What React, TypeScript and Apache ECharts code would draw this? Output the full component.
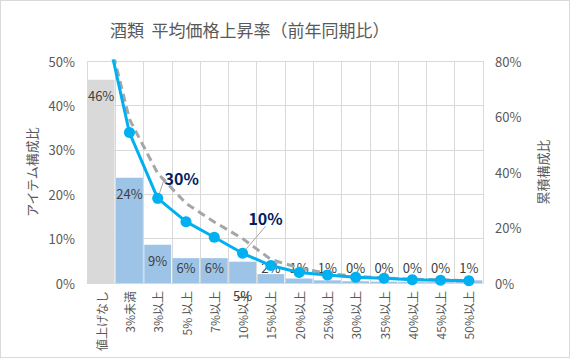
import React, { useEffect, useRef } from "react";
import * as echarts from "echarts";

const categories = [
  "値上げなし", "3%未満", "3%以上", "5% 以上", "7%以上", "10%以上", "15%以上",
  "20%以上", "25%以上", "30%以上", "35%以上", "40%以上", "45%以上", "50%以上",
];
// アイテム構成比 (%)
const itemShare = [45.8, 23.7, 8.6, 5.6, 5.6, 4.8, 2.0, 1.0, 0.6, 0.4, 0.3, 0.2, 0.2, 0.6];
// 累積構成比 (%)
const cumulative = [100, 54.2, 30.5, 22.1, 16.5, 10.7, 6.3, 3.8, 2.9, 2.1, 1.7, 1.2, 1.0, 0.8];
// 近似曲線 (dashed)
const trend = [100, 59, 39.5, 28.7, 22, 16, 8.5, 5.4, 3.4, 2.4, 1.8, 1.4, 1.1, 0.9];
const calloutIdx = [2, 5];
const belowLabelIdx = [5];
const leftTicks = { min: 0, max: 50, interval: 10 };
const rightTicks = { min: 0, max: 80, interval: 20 };

const FONT = "'Noto Sans CJK JP', 'Noto Sans', sans-serif";
const GRID = "#d9d9d9";
const TXT = "#595959";

export default function App() {
  const ref = useRef<HTMLDivElement>(null);
  useEffect(() => {
    if (!ref.current) return;
    const chart = echarts.init(ref.current, undefined, { renderer: "svg" });
    const barData = itemShare.map((v, i) => {
      const item: any = {
        value: v,
        itemStyle: { color: i === 0 ? "#d9d9d9" : "#9dc3e6" },
      };
      if (belowLabelIdx.includes(i)) {
        item.label = { position: "bottom", distance: 6 };
      } else if (v < 7.4) {
        item.label = { position: "insideBottom", distance: 9 };
      }
      return item;
    });
    const lineData = cumulative.map((v, i) =>
      calloutIdx.includes(i) ? { value: v, label: { show: true } } : v
    );
    const offsets: Record<number, { dx: number; dy: number }> = {
      2: { dx: 24, dy: -20 },
      5: { dx: 23, dy: -35 },
    };
    chart.setOption({
      animation: false,
      textStyle: { fontFamily: FONT },
      title: {
        text: "酒類  平均価格上昇率（前年同期比）",
        left: 109,
        top: 20,
        padding: 0,
        textStyle: { fontSize: 17, fontWeight: "normal", color: TXT, fontFamily: FONT },
      },
      graphic: [
        {
          type: "text",
          x: 541,
          y: 171,
          rotation: Math.PI / 2,
          style: {
            text: "累積構成比",
            fill: TXT,
            font: `13px ${FONT}`,
            align: "center",
            verticalAlign: "middle",
          },
        },
      ],
      grid: { left: 86, right: 86, top: 60, bottom: 74 },
      xAxis: {
        type: "category",
        data: categories,
        boundaryGap: true,
        axisLine: { show: true, lineStyle: { color: GRID } },
        axisTick: { show: false },
        splitLine: { show: true, lineStyle: { color: GRID } },
        axisLabel: { rotate: 90, interval: 0, margin: 8, fontSize: 12, color: TXT, fontFamily: FONT },
      },
      yAxis: [
        {
          type: "value",
          ...leftTicks,
          name: "アイテム構成比",
          nameLocation: "middle",
          nameGap: 47,
          nameRotate: 90,
          nameTextStyle: { fontSize: 13, color: TXT, fontFamily: FONT },
          axisLine: { show: false },
          axisTick: { show: false },
          splitLine: { show: true, lineStyle: { color: GRID } },
          axisLabel: { formatter: "{value}%", fontSize: 13, color: TXT, margin: 12, fontFamily: FONT },
        },
        {
          type: "value",
          ...rightTicks,
          axisLine: { show: false },
          axisTick: { show: false },
          splitLine: { show: false },
          axisLabel: { formatter: "{value}%", fontSize: 13, color: TXT, margin: 12, fontFamily: FONT },
        },
      ],
      series: [
        {
          type: "bar",
          data: barData,
          barCategoryGap: "5%",
          yAxisIndex: 0,
          z: 1,
          label: {
            show: true,
            position: "insideTop",
            distance: 9,
            fontSize: 13,
            color: "#404040",
            fontFamily: FONT,
            formatter: (p: any) => Math.round(p.value) + "%",
          },
        },
        {
          type: "line",
          data: trend,
          yAxisIndex: 1,
          symbol: "none",
          z: 2,
          lineStyle: { color: "#a6a6a6", width: 3, type: [8, 5] },
          itemStyle: { color: "#a6a6a6" },
        },
        {
          type: "line",
          data: lineData,
          yAxisIndex: 1,
          symbol: "circle",
          symbolSize: 11,
          z: 3,
          lineStyle: { color: "#00b0f0", width: 3 },
          itemStyle: { color: "#00b0f0" },
          label: {
            show: false,
            position: "inside",
            fontSize: 16,
            fontWeight: "bold",
            color: "#002060",
            fontFamily: FONT,
            formatter: (p: any) => Math.floor(p.value) + "%",
          },
          labelLine: { show: true, lineStyle: { color: "#a6a6a6", width: 1 } },
          labelLayout: (p: any) => offsets[p.dataIndex] || {},
        },
      ],
    });
    return () => chart.dispose();
  }, []);
  return (
    <div
      style={{
        position: "absolute",
        left: 0,
        top: 0,
        width: 570,
        height: 358,
        boxSizing: "border-box",
        border: "1px solid #d9d9d9",
        background: "#fff",
      }}
    >
      <div ref={ref} style={{ width: 568, height: 356 }} />
    </div>
  );
}
